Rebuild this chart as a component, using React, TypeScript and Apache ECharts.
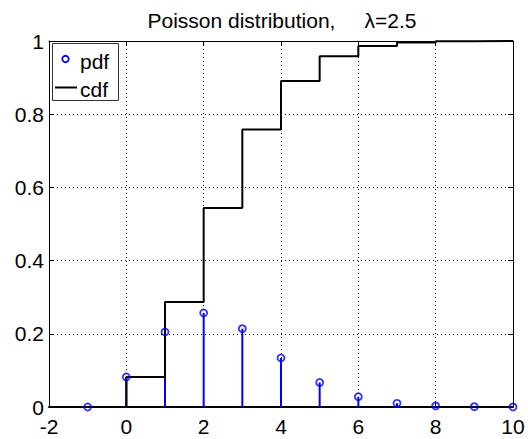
import React, { useEffect, useRef } from "react";
import * as echarts from "echarts";

const xValues = [-1, 0, 1, 2, 3, 4, 5, 6, 7, 8, 9, 10];
const pdfValues = [0, 0.082, 0.205, 0.257, 0.214, 0.134, 0.067, 0.028, 0.01, 0.003, 0.001, 0.0002];
const cdfValues = [0, 0.082, 0.287, 0.544, 0.758, 0.891, 0.958, 0.986, 0.996, 0.999, 1.0, 1.0];
const xTicks = { min: -2, max: 10, interval: 2 };
const yTicks = { min: 0, max: 1, interval: 0.2 };
const titleText = "Poisson distribution,\u00A0\u00A0\u00A0\u00A0\u00A0λ=2.5";
const legendNames = ["pdf", "cdf"];

const FONT = "'Liberation Sans', Arial, Helvetica, sans-serif";
const FS = 21;

export default function App() {
  const ref = useRef<HTMLDivElement>(null);
  useEffect(() => {
    if (!ref.current) return;
    const chart = echarts.init(ref.current, null, { renderer: "svg" });
    const pdfData = xValues.map((x, i) => [x, pdfValues[i]]);
    const cdfData = xValues.map((x, i) => [x, cdfValues[i]]);
    const stemData = pdfData.filter((d) => d[1] > 0);
    const axisCommon = {
      type: "value",
      axisLine: { show: true, onZero: false, lineStyle: { color: "#000", width: 1 } },
      axisTick: { show: true, inside: true, length: 5, lineStyle: { color: "#000" } },
    };
    chart.setOption({
      animation: false,
      backgroundColor: "#fff",
      title: {
        text: titleText,
        left: 277,
        textAlign: "center",
        top: 5,
        textStyle: { fontFamily: FONT, fontSize: FS, fontWeight: "normal", color: "#000" },
      },
      grid: { left: 49, right: 15, top: 41, bottom: 32, containLabel: false, outerBoundsMode: "none" },
      xAxis: [
        {
          ...axisCommon,
          ...xTicks,
          position: "bottom",
          axisLine: { show: true, onZero: false, lineStyle: { color: "#000", width: 2 } },
          axisLabel: { fontFamily: FONT, fontSize: FS, color: "#000", margin: 9 },
          splitLine: { show: true, lineStyle: { type: [1, 3], color: "#000", width: 1 } },
        },
        {
          ...axisCommon,
          ...xTicks,
          position: "top",
          axisLabel: { show: false },
          splitLine: { show: false },
        },
      ],
      yAxis: [
        {
          ...axisCommon,
          ...yTicks,
          position: "left",
          axisLabel: { fontFamily: FONT, fontSize: FS, color: "#000", margin: 5 },
          splitLine: { show: true, lineStyle: { type: [1, 3], color: "#000", width: 1 } },
        },
        {
          ...axisCommon,
          ...yTicks,
          position: "right",
          axisLabel: { show: false },
          splitLine: { show: false },
        },
      ],
      series: [
        {
          type: "custom",
          name: "stems",
          data: stemData,
          clip: false,
          renderItem: (params: any, api: any) => {
            const x = api.value(0);
            const y = api.value(1);
            const p0 = api.coord([x, 0]);
            const p1 = api.coord([x, y]);
            return {
              type: "line",
              shape: { x1: p0[0], y1: p0[1], x2: p1[0], y2: p1[1] },
              style: { stroke: "#0000ff", lineWidth: 2 },
            };
          },
          z: 2,
        },
        {
          type: "line",
          name: legendNames[1],
          data: cdfData,
          step: "end",
          showSymbol: false,
          lineStyle: { color: "#000", width: 2 },
          z: 3,
        },
        {
          type: "scatter",
          name: legendNames[0],
          data: pdfData,
          symbol: "circle",
          symbolSize: 7,
          clip: false,
          itemStyle: { color: "rgba(0,0,0,0)", borderColor: "#0000ff", borderWidth: 1.8 },
          z: 4,
        },
      ],
      graphic: [
        {
          type: "rect",
          shape: { x: 52.5, y: 43.5, width: 66, height: 57 },
          style: { fill: "#fff", stroke: "#333", lineWidth: 1 },
          z: 100,
        },
        {
          type: "circle",
          shape: { cx: 65.5, cy: 59, r: 3.2 },
          style: { fill: "none", stroke: "#0000ff", lineWidth: 1.8 },
          z: 101,
        },
        {
          type: "line",
          shape: { x1: 55, y1: 87.5, x2: 77, y2: 87.5 },
          style: { stroke: "#000", lineWidth: 2 },
          z: 101,
        },
        {
          type: "text",
          x: 80,
          y: 61,
          style: { text: legendNames[0], font: `${FS}px ${FONT}`, fill: "#000", verticalAlign: "middle" },
          z: 101,
        },
        {
          type: "text",
          x: 80,
          y: 89,
          style: { text: legendNames[1], font: `${FS}px ${FONT}`, fill: "#000", verticalAlign: "middle" },
          z: 101,
        },
      ],
    });
    return () => chart.dispose();
  }, []);
  return <div ref={ref} style={{ width: 528, height: 439, position: "absolute", left: 0, top: 0 }} />;
}
